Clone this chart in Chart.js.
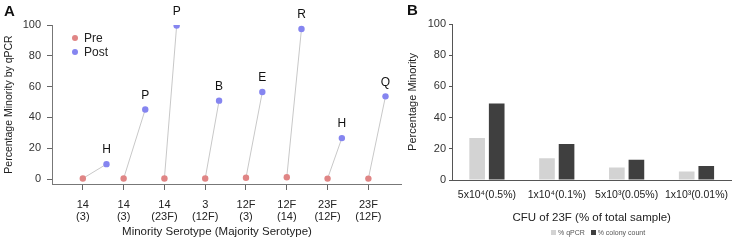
<!DOCTYPE html>
<html><head><meta charset="utf-8">
<script src="https://cdn.jsdelivr.net/npm/chart.js@4"></script>
<style>
html,body{margin:0;padding:0;background:#fff;}
body{width:737px;height:241px;position:relative;overflow:hidden;font-family:"Liberation Sans",Arial,sans-serif;}
#wa{position:absolute;left:0;top:0;width:405px;height:241px;}
#wb{position:absolute;left:400px;top:0;width:337px;height:241px;}
.panel{position:absolute;font-weight:bold;font-size:15px;color:#111;}
.leg{position:absolute;font-size:12px;color:#222;}
.dot{display:inline-block;width:6px;height:6px;border-radius:50%;margin-right:6px;vertical-align:1px;}
.legb{position:absolute;font-size:7px;color:#555;left:551px;top:229px;white-space:nowrap;}
.sq{display:inline-block;width:5px;height:5px;margin-right:2px;vertical-align:0px;}
.xt{position:absolute;font-size:11.5px;color:#222;white-space:nowrap;transform:translateX(-50%);}
</style></head>
<body>
<div id="wa"><canvas id="ca" width="405" height="241"></canvas></div>
<div id="wb"><canvas id="cb" width="337" height="241"></canvas></div>
<div class="panel" style="left:4px;top:2px;">A</div>
<div class="panel" style="left:407px;top:1px;">B</div>
<div class="leg" style="left:72px;top:31px;"><span class="dot" style="background:#e08585"></span>Pre</div>
<div class="leg" style="left:72px;top:45px;"><span class="dot" style="background:#8585f0"></span>Post</div>
<div class="xt" style="left:217px;top:225px;">Minority Serotype (Majority Serotype)</div>
<div class="legb"><span class="sq" style="background:#d3d3d3"></span>% qPCR&nbsp;&nbsp;&nbsp;<span class="sq" style="background:#3f3f3f"></span>% colony count</div>
<script>
// Panel A data
const minority = ['14','14','14','3','12F','12F','23F','23F'];
const majority = ['(3)','(3)','(23F)','(12F)','(3)','(14)','(12F)','(12F)'];
const preValues = [0.4,0.4,0.4,0.4,0.9,1.2,0.3,0.3];
const postValues = [9.7,45.2,99.6,50.9,56.5,97.4,26.6,53.7];
const postLetters = ['H','P','P','B','E','R','H','Q'];
const postOffset = [0.58,0.53,0.3,0.34,0.4,0.36,0.35,0.42];
const yTicksA = [0,20,40,60,80,100];
// Panel B data
const cfuLabels = ['5x10\u2074(0.5%)','1x10\u2074(0.1%)','5x10\u00b3(0.05%)','1x10\u00b3(0.01%)'];
const qpcr = [27,14,8,5.5];
const colony = [49,23,13,9];
const yTicksB = [0,20,40,60,80,100];

const FONT = "'Liberation Sans', Arial, sans-serif";
Chart.defaults.font.family = FONT;
Chart.defaults.color = '#222';

const datasetsA = [];
preValues.forEach((v,i)=>{
  datasetsA.push({type:'line',data:[{x:i,y:v},{x:i+postOffset[i],y:postValues[i]}],
    borderColor:'#c8c8c8',borderWidth:1,pointRadius:0,order:3});
});
datasetsA.push({type:'scatter',label:'Pre',data:preValues.map((v,i)=>({x:i,y:v})),
  backgroundColor:'#e08585',borderWidth:0,pointRadius:3.2,order:1});
datasetsA.push({type:'scatter',label:'Post',data:postValues.map((v,i)=>({x:i+postOffset[i],y:v})),
  backgroundColor:'#8585f0',borderWidth:0,pointRadius:3.2,order:1});

const letterPlugin = {
  id:'letters',
  afterDatasetsDraw(chart){
    const ds = chart.data.datasets.findIndex(d=>d.label==='Post');
    const meta = chart.getDatasetMeta(ds);
    const ctx = chart.ctx;
    ctx.save();
    ctx.font = "12px " + FONT;
    ctx.fillStyle = '#111';
    ctx.textAlign='center';ctx.textBaseline='middle';
    meta.data.forEach((pt,i)=>{ ctx.fillText(postLetters[i], pt.x, pt.y-14); });
    ctx.restore();
  }
};

new Chart(document.getElementById('ca'),{
  type:'scatter',
  data:{datasets:datasetsA},
  plugins:[letterPlugin],
  options:{
    responsive:false,animation:false,
    layout:{padding:{left:3,right:2,top:25,bottom:3}},
    plugins:{legend:{display:false},tooltip:{enabled:false}},
    scales:{
      x:{type:'linear',min:-0.756,max:7.8,
        afterBuildTicks(s){s.ticks=minority.map((_,i)=>({value:i}));},
        afterFit(s){s.height=54;},
        grid:{drawOnChartArea:false,tickLength:6,color:'#666'},
        border:{color:'#777',width:1},
        ticks:{autoSkip:false,maxRotation:0,padding:9,font:{size:11,lineHeight:1.1},color:'#222',
          callback:(v)=>[minority[v],majority[v]]}
      },
      y:{min:-3.2,max:100,
        afterBuildTicks(s){s.ticks=yTicksA.map(v=>({value:v}));},
        afterFit(s){s.width=49;},
        grid:{drawOnChartArea:false,tickLength:5,color:'#666'},
        border:{color:'#777',width:1},
        ticks:{padding:6,font:{size:11},color:'#333'},
        title:{display:true,text:'Percentage Minority by qPCR',font:{size:10.5},color:'#222',padding:0}
      }
    }
  }
});

new Chart(document.getElementById('cb'),{
  type:'bar',
  data:{labels:cfuLabels,datasets:[
    {label:'% qPCR',data:qpcr,backgroundColor:'#d3d3d3',categoryPercentage:0.56,barPercentage:0.8},
    {label:'% colony count',data:colony,backgroundColor:'#3f3f3f',categoryPercentage:0.56,barPercentage:0.8}
  ]},
  options:{
    responsive:false,animation:false,
    layout:{padding:{left:6,right:0,top:24,bottom:16}},
    plugins:{legend:{display:false},tooltip:{enabled:false}},
    scales:{
      x:{afterFit(s){s.height=45;},
        grid:{display:false,drawTicks:false},
        border:{color:'#555',width:1},
        ticks:{autoSkip:false,maxRotation:0,padding:9,font:{size:10.5},color:'#222'},
        title:{display:true,text:'CFU of 23F (% of total sample)',font:{size:11.5},color:'#222',padding:0}
      },
      y:{min:0,max:100,
        afterBuildTicks(s){s.ticks=yTicksB.map(v=>({value:v}));},
        afterFit(s){s.width=46;},
        grid:{drawOnChartArea:false,tickLength:3,color:'#555'},
        border:{color:'#555',width:1},
        ticks:{padding:3,font:{size:11},color:'#333'},
        title:{display:true,text:'Percentage Minority',font:{size:11},color:'#222',padding:0}
      }
    }
  }
});
</script>
</body></html>
